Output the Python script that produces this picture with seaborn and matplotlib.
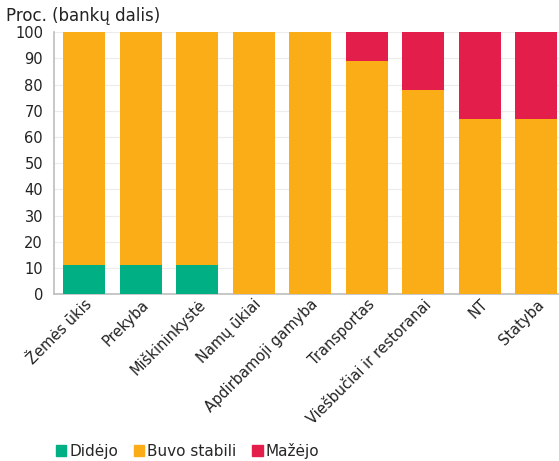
import numpy as np
import pandas as pd
import seaborn as sns
import matplotlib.pyplot as plt
from matplotlib.patches import Patch

sectors = ["Žemės ūkis", "Prekyba", "Miškininkystė", "Namų ūkiai", "Apdirbamoji gamyba",
           "Transportas", "Viešbučiai ir restoranai", "NT", "Statyba"]
didejo = [11.1, 11.1, 11.1, 0, 0, 0, 0, 0, 0]
stabili = [88.9, 88.9, 88.9, 100, 100, 88.9, 77.8, 66.7, 66.7]
mazejo = [0, 0, 0, 0, 0, 11.1, 22.2, 33.3, 33.3]

c_green = "#00b084"
c_orange = "#fbad18"
c_red = "#e31e4a"

df = pd.DataFrame({"sector": sectors, "didejo": didejo, "stabili": stabili, "mazejo": mazejo})
df["top2"] = df["didejo"] + df["stabili"]
df["top3"] = df["top2"] + df["mazejo"]

sns.set_style("white")
plt.rcParams["font.family"] = ["DejaVu Sans"]

fig, ax = plt.subplots(figsize=(5.59, 4.61), dpi=100)
fig.subplots_adjust(left=0.097, right=1.0, top=0.93, bottom=0.362)

# stacked: draw cumulative totals from top layer down
for col, c, z in [("top3", c_red, 2), ("top2", c_orange, 3), ("didejo", c_green, 4)]:
    sns.barplot(data=df, x="sector", y=col, color=c, width=0.745, saturation=1,
                linewidth=0, ax=ax, zorder=z)

ax.set_ylim(0, 100)
ax.set_yticks(np.arange(0, 101, 10))
ax.set_xlim(-0.53, len(sectors) - 0.6)
ax.yaxis.grid(True, color="#ececec", linewidth=0.8, zorder=0)
ax.set_axisbelow(True)
ax.set_xlabel("")
ax.set_ylabel("")
for s in ["top", "right"]:
    ax.spines[s].set_visible(False)
for s in ["left", "bottom"]:
    ax.spines[s].set_color("#bdbdbd")
    ax.spines[s].set_linewidth(1.2)
ax.tick_params(axis="y", labelsize=10.5, length=0, pad=8, labelcolor="#222222")
ax.tick_params(axis="x", labelsize=10.5, length=0, pad=2, labelcolor="#222222")
plt.setp(ax.get_xticklabels(), rotation=45, ha="right", rotation_mode="anchor")

fig.text(0.01, 0.955, "Proc. (bankų dalis)", fontsize=12, color="#222222")

handles = [Patch(color=c_green, label="Didėjo"),
           Patch(color=c_orange, label="Buvo stabili"),
           Patch(color=c_red, label="Mažėjo")]
fig.legend(handles=handles, loc="lower left", bbox_to_anchor=(0.075, -0.025), ncol=3, frameon=False,
           fontsize=11, handlelength=0.7, handleheight=0.7, handletextpad=0.2, columnspacing=1.0)

fig.savefig("out.png", dpi=100)
